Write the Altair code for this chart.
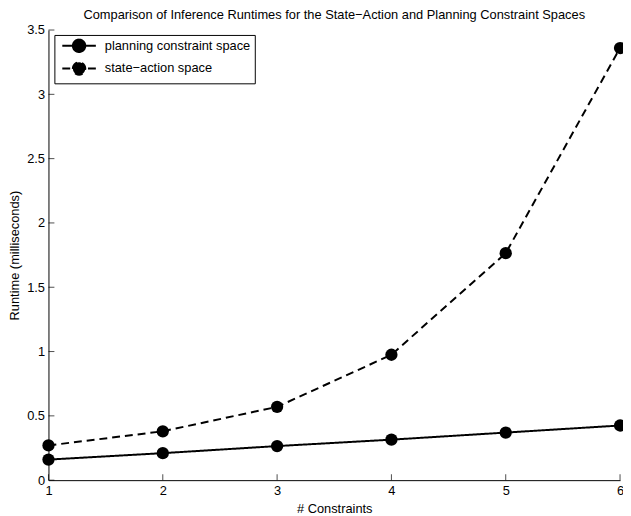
import math
import altair as alt
import pandas as pd

constraints = [1, 2, 3, 4, 5, 6]
planning = [0.16, 0.21, 0.265, 0.315, 0.37, 0.425]
state_action = [0.27, 0.38, 0.57, 0.975, 1.765, 3.36]
series_names = ["planning constraint space", "state\u2212action space"]
x_ticks = [1, 2, 3, 4, 5, 6]
y_ticks = [0, 0.5, 1, 1.5, 2, 2.5, 3, 3.5]

rows = []
for c, p, s in zip(constraints, planning, state_action):
    rows.append({"n": c, "runtime": p, "series": series_names[0]})
    rows.append({"n": c, "runtime": s, "series": series_names[1]})
df = pd.DataFrame(rows)

W, H = 579, 456
FONT = "Liberation Sans"
FS = 13

xscale = alt.Scale(domain=[1, 6], nice=False, zero=False)
yscale = alt.Scale(domain=[0, 3.5], nice=False)

# legend glyph (unit = 6px at symbolSize 144): a line with a dot drawn as a polygon
R = 1.05
poly = []
for k in range(24):
    a = math.pi + 2 * math.pi * k / 24
    poly.append(f"{R * math.cos(a):.3f},{R * math.sin(a):.3f}")
dot = "M" + "L".join(poly) + "Z"
legend_glyph = "M-2.833,0H2.833" + dot

lines = alt.Chart(df).mark_line(color="black", strokeWidth=2).encode(
    x=alt.X("n:Q", scale=xscale,
            axis=alt.Axis(values=x_ticks, title="# Constraints", tickSize=0,
                          labelPadding=5, titlePadding=5, grid=False, format="d")),
    y=alt.Y("runtime:Q", scale=yscale,
            axis=alt.Axis(values=y_ticks, title="Runtime (milliseconds)", tickSize=0,
                          labelPadding=4, titlePadding=5, grid=False, format="~g")),
    strokeDash=alt.StrokeDash(
        "series:N",
        scale=alt.Scale(domain=series_names, range=[[1, 0], [8, 5]]),
        legend=alt.Legend(
            title=None, orient="none", legendX=6, legendY=5,
            symbolType=legend_glyph, symbolSize=144, symbolStrokeWidth=2,
            symbolStrokeColor="black", symbolFillColor="black",
            labelFont=FONT, labelFontSize=FS, labelColor="black",
            strokeColor="black", fillColor="white", padding=4,
            rowPadding=1, labelOffset=19, symbolOffset=14,
        ),
    ),
)

points = alt.Chart(df).mark_point(filled=True, color="black", size=155, opacity=1, shape="circle").encode(
    x=alt.X("n:Q", scale=xscale),
    y=alt.Y("runtime:Q", scale=yscale),
)

xt = pd.DataFrame({"v": x_ticks})
yt = pd.DataFrame({"v": y_ticks})

xticks = alt.Chart(xt).mark_tick(color="black", thickness=1, size=6, orient="vertical").encode(
    x=alt.X("v:Q", scale=xscale), y=alt.value(H - 3))
yticks = alt.Chart(yt).mark_tick(color="black", thickness=1, size=6, orient="horizontal").encode(
    y=alt.Y("v:Q", scale=yscale), x=alt.value(3))

chart = alt.layer(lines, points, xticks, yticks).properties(
    width=W, height=H,
    title=alt.TitleParams(
        "Comparison of Inference Runtimes for the State\u2212Action and Planning Constraint Spaces",
        font=FONT, fontSize=FS, fontWeight="normal", color="black", offset=2,
        anchor="middle", frame="group"),
    autosize=alt.AutoSizeParams(type="none"),
    padding={"left": 41, "top": 19, "right": 3, "bottom": 33},
).configure_view(stroke=None).configure_axis(
    domainColor="black", domainWidth=1, labelFont=FONT, labelFontSize=FS,
    labelColor="black", titleFont=FONT, titleFontSize=FS, titleFontWeight="normal",
    titleColor="black", labelFlush=False,
)

chart.save("out.html", embed_options={"renderer": "svg", "actions": False})
